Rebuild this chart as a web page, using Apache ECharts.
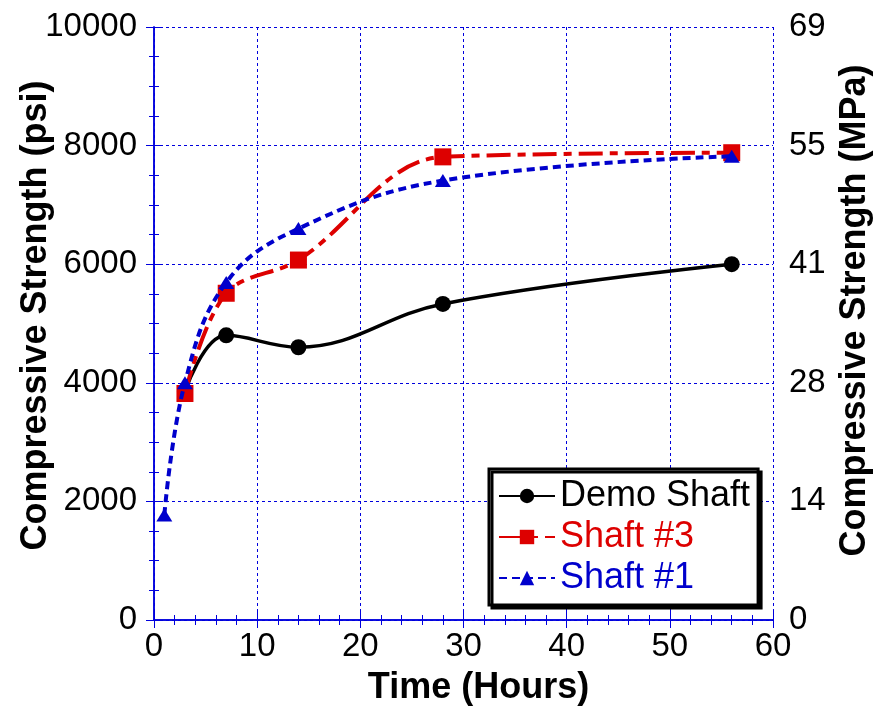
<!DOCTYPE html>
<html>
<head>
<meta charset="utf-8">
<script src="https://cdn.jsdelivr.net/npm/echarts@6/dist/echarts.min.js"></script>
<style>
  html, body { margin: 0; padding: 0; background: #fff; }
  #chart { width: 875px; height: 707px; }
</style>
</head>
<body>
<div id="chart"></div>
<script>
// Compressive strength gain over time for three drilled shafts
const demoHours = [3, 7, 14, 28, 56];
const demoPsi = [3850, 4800, 4600, 5330, 6000];

const shaft3Hours = [3, 7, 14, 28, 56];
const shaft3Psi = [3820, 5510, 6070, 7810, 7880];

const shaft1Hours = [1, 3, 7, 14, 28, 56];
const shaft1Psi = [1770, 4000, 5690, 6600, 7410, 7820];

const seriesNames = ['Demo Shaft', 'Shaft #3', 'Shaft #1'];
const PSI_TO_MPA = 0.00689476;

const AXIS_BLUE = '#0000dd';
const RED = '#dd0000';
const BLUE = '#0000cc';

const pairs = (xs, ys) => xs.map((x, i) => [x, ys[i]]);

const FONT = 'Liberation Sans, Arial, sans-serif';
const tickFont = { fontFamily: FONT, fontSize: 33, color: '#000' };
const titleFont = { fontFamily: FONT, fontSize: 36, fontWeight: 'bold', color: '#000' };

const chart = echarts.init(document.getElementById('chart'), null, { renderer: 'canvas' });

const axisLine = { show: true, lineStyle: { color: AXIS_BLUE, width: 1.5 } };
const gridLine = { show: true, lineStyle: { color: AXIS_BLUE, width: 1, type: [3, 3] } };
const majorTick = { show: true, inside: true, length: 8, lineStyle: { color: AXIS_BLUE, width: 1 } };
const minorTick = n => ({ show: true, splitNumber: n, length: -5, lineStyle: { color: AXIS_BLUE, width: 1 } });

chart.setOption({
  animation: false,
  backgroundColor: '#fff',
  grid: { left: 154, right: 102, top: 27, bottom: 87, containLabel: false, outerBoundsMode: 'none' },
  xAxis: [
    {
      type: 'value', position: 'bottom', min: 0, max: 60, interval: 10,
      name: 'Time (Hours)', nameLocation: 'middle', nameGap: 50, nameMoveOverlap: false,
      nameTextStyle: Object.assign({ padding: [0, 0, 0, 30] }, titleFont),
      axisLine: axisLine,
      axisTick: majorTick,
      minorTick: minorTick(5),
      axisLabel: Object.assign({ margin: 10, formatter: v => String(v) }, tickFont),
      splitLine: gridLine
    },
    {
      type: 'value', position: 'top', min: 0, max: 60, interval: 10,
      axisLine: axisLine,
      axisTick: majorTick,
      minorTick: minorTick(5),
      axisLabel: { show: false },
      splitLine: { show: false }
    }
  ],
  yAxis: [
    {
      type: 'value', position: 'left', min: 0, max: 10000, interval: 2000,
      name: 'Compressive Strength (psi)', nameLocation: 'middle', nameGap: 100, nameRotate: 90,
      nameMoveOverlap: false,
      nameTextStyle: Object.assign({ padding: [0, 0, 0, 16] }, titleFont),
      axisLine: axisLine,
      axisTick: majorTick,
      minorTick: minorTick(4),
      axisLabel: Object.assign({ margin: 17, formatter: v => String(v) }, tickFont),
      splitLine: gridLine
    },
    {
      type: 'value', position: 'right', min: 0, max: 10000, interval: 2000,
      name: 'Compressive Strength (MPa)', nameLocation: 'middle', nameGap: 61, nameRotate: 90,
      nameTextStyle: Object.assign({ padding: [0, 0, 0, 26] }, titleFont),
      axisLine: axisLine,
      axisTick: majorTick,
      minorTick: minorTick(4),
      axisLabel: Object.assign({ margin: 16, formatter: v => String(Math.round(v * PSI_TO_MPA)) }, tickFont),
      splitLine: { show: false }
    }
  ],
  legend: {
    orient: 'vertical',
    left: 489, top: 469,
    backgroundColor: '#fff',
    borderColor: '#000', borderWidth: 3, borderRadius: 0,
    shadowColor: '#000', shadowBlur: 0, shadowOffsetX: 3, shadowOffsetY: 3,
    padding: [9, 8, 9, 9],
    itemWidth: 56, itemHeight: 18, itemGap: 5, itemTextGap: 5,
    textStyle: { fontFamily: FONT, fontSize: 36, lineHeight: 35 },
    data: [
      { name: seriesNames[0], textStyle: { color: '#000' } },
      { name: seriesNames[1], textStyle: { color: RED } },
      { name: seriesNames[2], textStyle: { color: BLUE } }
    ]
  },
  series: [
    {
      name: seriesNames[0], type: 'line', smooth: 0.4,
      data: pairs(demoHours, demoPsi),
      symbol: 'circle', symbolSize: 16,
      itemStyle: { color: '#000' },
      lineStyle: { color: '#000', width: 3.5 },
      z: 2
    },
    {
      name: seriesNames[1], type: 'line', smooth: 0.35,
      data: pairs(shaft3Hours, shaft3Psi),
      symbol: 'rect', symbolSize: 17,
      itemStyle: { color: RED },
      lineStyle: { color: RED, width: 4, type: [24, 7, 8, 7] },
      z: 3
    },
    {
      name: seriesNames[2], type: 'line', smooth: 0.4,
      data: pairs(shaft1Hours, shaft1Psi),
      symbol: 'triangle', symbolSize: [16, 13],
      itemStyle: { color: BLUE },
      lineStyle: { color: BLUE, width: 4, type: [8, 5] },
      z: 4
    }
  ]
});
</script>
</body>
</html>
